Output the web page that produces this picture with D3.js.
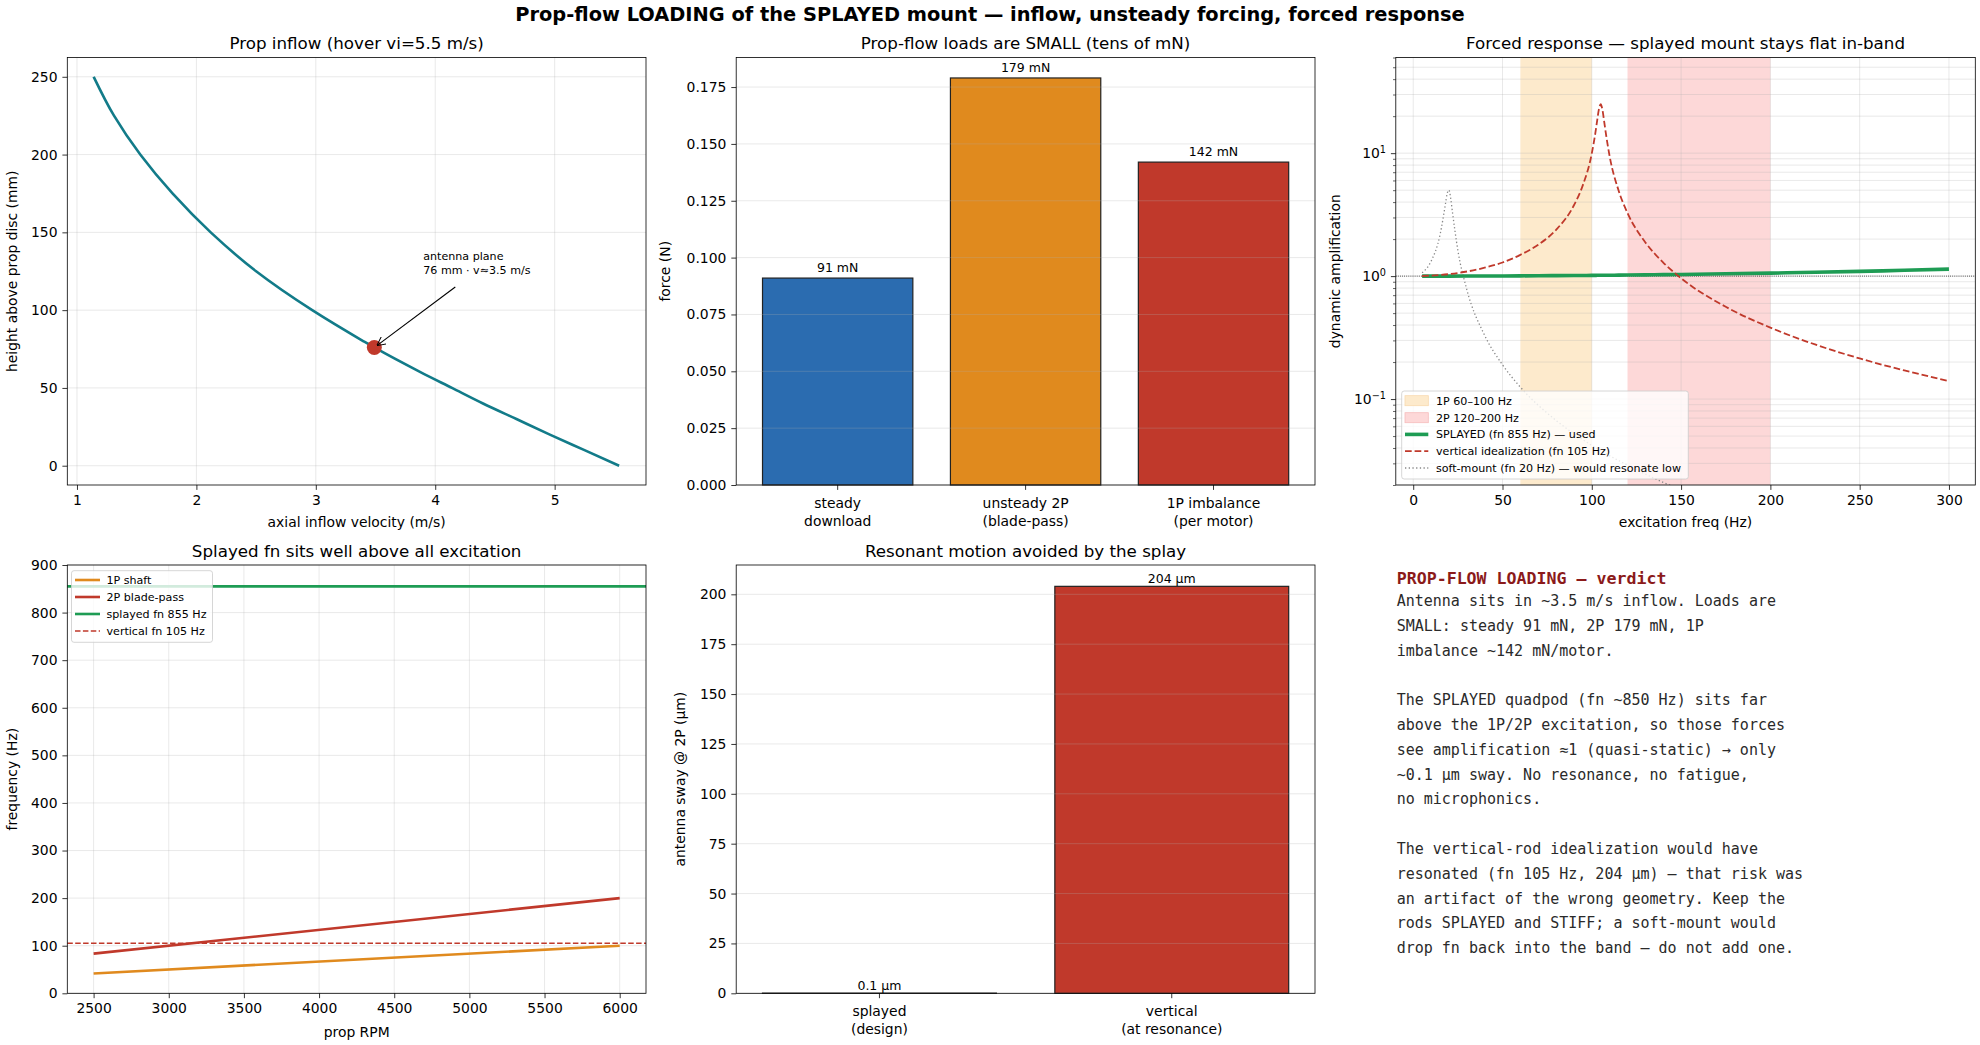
<!DOCTYPE html>
<html>
<head>
<meta charset="utf-8">
<script src="https://cdn.jsdelivr.net/npm/d3@7"></script>
<style>
  body { margin: 0; background: #fff; }
  svg { display: block; }
</style>
</head>
<body>
<script>
// ---- data ----
// panel 1: inflow velocity vs height above the prop disc
const inflowHeight = [0, 10, 20, 30, 40, 50, 60, 76, 80, 100, 125, 150, 175, 200, 225, 250];
const inflowVel = [5.54, 5.25, 4.96, 4.68, 4.40, 4.14, 3.88, 3.49, 3.40, 2.97, 2.50, 2.12, 1.80, 1.53, 1.31, 1.14];
const antenna = { v: 3.49, h: 76, textV: 3.9, textH: 120 };
const antennaText = ["antenna plane", "76 mm · v≈3.5 m/s"];

// panel 2: prop-flow loads
const loadCats = ["steady\ndownload", "unsteady 2P\n(blade-pass)", "1P imbalance\n(per motor)"];
const loadVals = [0.091, 0.179, 0.142];
const loadLabels = ["91 mN", "179 mN", "142 mN"];
const loadColors = ["#2b6cb0", "#e08a1e", "#c0392b"];

// panel 3: forced response
const respFreq = [5, 20, 40, 50, 60, 70, 80, 90, 95, 100, 102, 103, 104, 105, 106, 107, 108, 110, 115, 120, 130, 140, 150, 175, 200, 225, 250, 275, 300];
const ampVertical = [1.002, 1.038, 1.17, 1.29, 1.49, 1.80, 2.38, 3.77, 5.5, 9.95, 14.6, 18.4, 22.8, 25.0, 22.4, 17.8, 14.1, 9.43, 4.97, 3.26, 1.88, 1.29, 0.961, 0.563, 0.381, 0.278, 0.214, 0.171, 0.140];
const ampSplayed = [1.0, 1.0005, 1.002, 1.003, 1.005, 1.007, 1.009, 1.011, 1.012, 1.014, 1.014, 1.015, 1.015, 1.015, 1.016, 1.016, 1.016, 1.017, 1.018, 1.020, 1.024, 1.028, 1.032, 1.044, 1.058, 1.074, 1.093, 1.115, 1.140];
const softFreq = [5, 10, 15, 18, 19, 20, 21, 22, 25, 30, 40, 50, 60, 80, 100, 120, 140, 160, 200, 250, 300];
const ampSoft = [1.065, 1.32, 2.16, 3.82, 4.68, 5.0, 4.28, 3.29, 1.62, 0.778, 0.330, 0.190, 0.125, 0.067, 0.042, 0.029, 0.021, 0.016, 0.010, 0.0067, 0.0045];
const bands = [[60, 100], [120, 200]];
const bandColors = ["#fdeacc", "#fdd8d8"];
const respLegend = ["1P 60–100 Hz", "2P 120–200 Hz", "SPLAYED (fn 855 Hz) — used", "vertical idealization (fn 105 Hz)", "soft-mount (fn 20 Hz) — would resonate low"];

// panel 4: campbell-style frequency map
const rpm = [2500, 6000];
const freq1P = [41.7, 100];
const freq2P = [83.3, 200];
const fnSplayed = 855;
const fnVertical = 105;
const freqLegend = ["1P shaft", "2P blade-pass", "splayed fn 855 Hz", "vertical fn 105 Hz"];

// panel 5: antenna sway
const swayCats = ["splayed\n(design)", "vertical\n(at resonance)"];
const swayVals = [0.1, 204];
const swayLabels = ["0.1 µm", "204 µm"];
const swayColors = ["#1e9c54", "#c0392b"];

// panel 6: verdict text
const verdictTitle = "PROP-FLOW LOADING — verdict";
const verdictLines = [
    "Antenna sits in ~3.5 m/s inflow. Loads are",
    "SMALL: steady 91 mN, 2P 179 mN, 1P",
    "imbalance ~142 mN/motor.",
    "",
    "The SPLAYED quadpod (fn ~850 Hz) sits far",
    "above the 1P/2P excitation, so those forces",
    "see amplification ≈1 (quasi-static) → only",
    "~0.1 µm sway. No resonance, no fatigue,",
    "no microphonics.",
    "",
    "The vertical-rod idealization would have",
    "resonated (fn 105 Hz, 204 µm) — that risk was",
    "an artifact of the wrong geometry. Keep the",
    "rods SPLAYED and STIFF; a soft-mount would",
    "drop fn back into the band — do not add one."
];

// ---- layout ----
const W = 1980, H = 1045;
const FONT = "DejaVu Sans";
const TICK = 13.9, TITLE = 16.7;
const cols = [[67.3, 646], [736.2, 1315], [1395.8, 1975.3]];
const rows = [[57.5, 485], [565, 993.3]];

const teal = "#127b89", orange = "#e08a1e", red = "#c0392b", green = "#1e9c54";

const svg = d3.select('body')
    .append('svg')
    .attr('width', W)
    .attr('height', H)
    .style('font-family', FONT);

const defs = svg.append('defs');
defs.append('marker')
    .attr('id', 'arrow')
    .attr('viewBox', '0 0 10 10')
    .attr('refX', 9).attr('refY', 5)
    .attr('markerWidth', 9).attr('markerHeight', 9)
    .attr('markerUnits', 'userSpaceOnUse')
    .attr('orient', 'auto')
    .append('path')
    .attr('d', 'M0,0 L10,5 L0,10')
    .attr('fill', 'none')
    .attr('stroke', '#000')
    .attr('stroke-width', 1.1);

svg.append('text')
    .attr('x', W / 2)
    .attr('y', 21)
    .attr('text-anchor', 'middle')
    .attr('font-size', 19.4)
    .attr('font-weight', 'bold')
    .text('Prop-flow LOADING of the SPLAYED mount — inflow, unsteady forcing, forced response');

let clipCount = 0;
function makePanel(c, r) {
    const [x0, x1] = cols[c];
    const [y0, y1] = rows[r];
    const w = x1 - x0, h = y1 - y0;
    const g = svg.append('g').attr('transform', `translate(${x0},${y0})`);
    const id = 'clip' + (clipCount++);
    defs.append('clipPath').attr('id', id).append('rect').attr('width', w).attr('height', h);
    return { g, w, h, clip: `url(#${id})` };
}

function styleAxis(sel) {
    sel.select('.domain').remove();
    sel.attr('font-size', null).attr('font-family', null);
    sel.selectAll('text').attr('font-size', TICK).attr('fill', '#000');
    sel.selectAll('line').attr('stroke', '#000').attr('stroke-width', 0.8);
}

function gridX(p, scale, vals) {
    p.g.append('g').selectAll('line').data(vals).join('line')
        .attr('x1', d => scale(d)).attr('x2', d => scale(d))
        .attr('y1', 0).attr('y2', p.h)
        .attr('stroke', '#b0b0b0').attr('stroke-opacity', 0.35).attr('stroke-width', 0.8);
}
function gridY(p, scale, vals) {
    p.g.append('g').selectAll('line').data(vals).join('line')
        .attr('y1', d => scale(d)).attr('y2', d => scale(d))
        .attr('x1', 0).attr('x2', p.w)
        .attr('stroke', '#b0b0b0').attr('stroke-opacity', 0.35).attr('stroke-width', 0.8);
}

function frame(p) {
    p.g.append('rect')
        .attr('width', p.w).attr('height', p.h)
        .attr('fill', 'none').attr('stroke', '#000').attr('stroke-width', 0.8);
}

function title(p, t) {
    p.g.append('text')
        .attr('x', p.w / 2).attr('y', -8.5)
        .attr('text-anchor', 'middle')
        .attr('font-size', TITLE)
        .text(t);
}
function xLabel(p, t, off) {
    p.g.append('text')
        .attr('x', p.w / 2).attr('y', p.h + off)
        .attr('dy', '0.35em')
        .attr('text-anchor', 'middle')
        .attr('font-size', TICK)
        .text(t);
}
function yLabel(p, t, off) {
    p.g.append('text')
        .attr('transform', `translate(${-off},${p.h / 2}) rotate(-90)`)
        .attr('dy', '0.35em')
        .attr('text-anchor', 'middle')
        .attr('font-size', TICK)
        .text(t);
}

function bottomAxis(p, scale, vals, fmt) {
    const ax = d3.axisBottom(scale).tickSize(4.9).tickPadding(4.9).tickSizeOuter(0);
    if (vals) ax.tickValues(vals);
    if (fmt) ax.tickFormat(fmt);
    const g = p.g.append('g').attr('transform', `translate(0,${p.h})`).call(ax);
    styleAxis(g);
    return g;
}
function leftAxis(p, scale, vals, fmt) {
    const ax = d3.axisLeft(scale).tickSize(4.9).tickPadding(4.9).tickSizeOuter(0);
    if (vals) ax.tickValues(vals);
    if (fmt) ax.tickFormat(fmt);
    const g = p.g.append('g').call(ax);
    styleAxis(g);
    return g;
}

// category labels on two lines, pushed a little lower like the reference
function twoLineTicks(g, shift) {
    g.selectAll('.tick text').each(function (d) {
        const t = d3.select(this);
        const parts = d.split('\n');
        t.text(null).attr('y', +t.attr('y') + shift);
        parts.forEach((s, i) => {
            t.append('tspan').attr('x', 0).attr('dy', i === 0 ? '0.71em' : '1.27em').text(s);
        });
    });
}

function legendBox(p, x, y, w, h) {
    p.g.append('rect')
        .attr('x', x).attr('y', y).attr('width', w).attr('height', h)
        .attr('rx', 2.5)
        .attr('fill', '#fff').attr('fill-opacity', 0.8)
        .attr('stroke', '#cccccc').attr('stroke-width', 0.8);
}

// ---- panel 1: prop inflow ----
{
    const p = makePanel(0, 0);
    const x = d3.scaleLinear().domain([0.919, 5.765]).range([0, p.w]);
    const y = d3.scaleLinear().domain([-12.4, 262.4]).range([p.h, 0]);
    const xt = [1, 2, 3, 4, 5], yt = [0, 50, 100, 150, 200, 250];
    gridX(p, x, xt);
    gridY(p, y, yt);

    const line = d3.line()
        .x((d, i) => x(inflowVel[i]))
        .y(d => y(d))
        .curve(d3.curveMonotoneY);
    p.g.append('path')
        .datum(inflowHeight)
        .attr('d', line)
        .attr('fill', 'none')
        .attr('stroke', teal)
        .attr('stroke-width', 2.6);

    p.g.append('circle')
        .attr('cx', x(antenna.v)).attr('cy', y(antenna.h))
        .attr('r', 7.5)
        .attr('fill', red);

    const tx = x(antenna.textV), ty = y(antenna.textH);
    p.g.append('text')
        .attr('x', tx).attr('y', ty - 19)
        .attr('font-size', 11.1)
        .selectAll('tspan').data(antennaText).join('tspan')
        .attr('x', tx).attr('dy', (d, i) => i === 0 ? 0 : 14.2)
        .text(d => d);
    // arrow from text to the antenna point
    const x0 = tx + 32, y0 = ty + 8;
    const x1 = x(antenna.v), y1 = y(antenna.h);
    const len = Math.hypot(x1 - x0, y1 - y0);
    p.g.append('line')
        .attr('x1', x0).attr('y1', y0)
        .attr('x2', x1 - (x1 - x0) / len * 4).attr('y2', y1 - (y1 - y0) / len * 4)
        .attr('stroke', '#000').attr('stroke-width', 1.1)
        .attr('marker-end', 'url(#arrow)');

    bottomAxis(p, x, xt, d3.format('d'));
    leftAxis(p, y, yt, d3.format('d'));
    frame(p);
    title(p, 'Prop inflow (hover vi=5.5 m/s)');
    xLabel(p, 'axial inflow velocity (m/s)', 37);
    yLabel(p, 'height above prop disc (mm)', 55.5);
}

// ---- panel 2: prop-flow loads ----
{
    const p = makePanel(1, 0);
    const x = d3.scaleBand().domain(loadCats).range([0, p.w]).paddingInner(0.2).paddingOuter(0.14);
    const y = d3.scaleLinear().domain([0, 0.188]).range([p.h, 0]);
    const yt = [0, 0.025, 0.05, 0.075, 0.1, 0.125, 0.15, 0.175];

    p.g.append('g').selectAll('rect').data(loadCats).join('rect')
        .attr('x', d => x(d))
        .attr('y', (d, i) => y(loadVals[i]))
        .attr('width', x.bandwidth())
        .attr('height', (d, i) => y(0) - y(loadVals[i]))
        .attr('fill', (d, i) => loadColors[i])
        .attr('stroke', '#222').attr('stroke-width', 1.2);
    gridY(p, y, yt);

    p.g.append('g').selectAll('text').data(loadCats).join('text')
        .attr('x', d => x(d) + x.bandwidth() / 2)
        .attr('y', (d, i) => y(loadVals[i]) - 6)
        .attr('text-anchor', 'middle')
        .attr('font-size', 12.5)
        .text((d, i) => loadLabels[i]);

    const xg = bottomAxis(p, x);
    twoLineTicks(xg, 3.5);
    leftAxis(p, y, yt, d3.format('.3f'));
    frame(p);
    title(p, 'Prop-flow loads are SMALL (tens of mN)');
    yLabel(p, 'force (N)', 71.2);
}

// ---- panel 3: forced response ----
{
    const p = makePanel(2, 0);
    const x = d3.scaleLinear().domain([-9.75, 314.75]).range([0, p.w]);
    const y = d3.scaleLog().domain([0.02, 60]).range([p.h, 0]);
    const xt = [0, 50, 100, 150, 200, 250, 300];
    const majors = [0.1, 1, 10];
    const minors = [];
    [0.01, 0.1, 1, 10].forEach(dec => {
        for (let k = 2; k <= 9; k++) {
            const v = k * dec;
            if (v >= 0.02 && v <= 60) minors.push(v);
        }
    });

    p.g.append('g').selectAll('rect').data(bands).join('rect')
        .attr('x', d => x(d[0]))
        .attr('width', d => x(d[1]) - x(d[0]))
        .attr('y', 0).attr('height', p.h)
        .attr('fill', (d, i) => bandColors[i]);

    gridX(p, x, xt);
    gridY(p, y, majors.concat(minors));

    const plot = p.g.append('g').attr('clip-path', p.clip);
    plot.append('line')
        .attr('x1', 0).attr('x2', p.w)
        .attr('y1', y(1)).attr('y2', y(1))
        .attr('stroke', '#000').attr('stroke-width', 0.8)
        .attr('stroke-dasharray', '0.8,1.3');

    const lineV = d3.line().x((d, i) => x(respFreq[i])).y(d => y(d)).curve(d3.curveMonotoneX);
    const lineS = d3.line().x((d, i) => x(softFreq[i])).y(d => y(d)).curve(d3.curveMonotoneX);

    plot.append('path').datum(ampSoft).attr('d', lineS)
        .attr('fill', 'none').attr('stroke', '#888').attr('stroke-width', 1.3)
        .attr('stroke-dasharray', '1.3,2.4');
    plot.append('path').datum(ampSplayed).attr('d', lineV)
        .attr('fill', 'none').attr('stroke', green).attr('stroke-width', 3.6);
    plot.append('path').datum(ampVertical).attr('d', lineV)
        .attr('fill', 'none').attr('stroke', red).attr('stroke-width', 1.8)
        .attr('stroke-dasharray', '6.7,2.9');

    bottomAxis(p, x, xt, d3.format('d'));
    const sup = { '0.1': '−1', '1': '0', '10': '1' };
    const yg = leftAxis(p, y, majors, () => '');
    yg.selectAll('.tick text').each(function (d) {
        const t = d3.select(this);
        t.append('tspan').text('10');
        t.append('tspan').attr('dy', '-0.5em').attr('font-size', 9.7).text(sup[String(d)]);
    });
    const ym = p.g.append('g').call(d3.axisLeft(y).tickValues(minors).tickSize(2.8).tickFormat(''));
    styleAxis(ym);
    ym.selectAll('line').attr('stroke-width', 0.6);

    // legend
    const lx = 1401.7 - cols[2][0], ly = 391 - rows[0][0];
    legendBox(p, lx, ly, 286.6, 88);
    const rowY = [400.7, 417.7, 434.4, 451.1, 468.0].map(v => v - rows[0][0]);
    const hx0 = 1405 - cols[2][0], hx1 = 1428.3 - cols[2][0];
    bandColors.forEach((c, i) => {
        p.g.append('rect')
            .attr('x', hx0).attr('y', rowY[i] - 5)
            .attr('width', hx1 - hx0).attr('height', 10)
            .attr('fill', c).attr('stroke', i === 0 ? '#f8d9ae' : '#f6bcbc').attr('stroke-width', 0.8);
    });
    const legStyles = [
        { c: green, w: 3.6, dash: null },
        { c: red, w: 1.8, dash: '6.7,2.9' },
        { c: '#888', w: 1.3, dash: '1.3,2.4' }
    ];
    legStyles.forEach((s, i) => {
        p.g.append('line')
            .attr('x1', hx0).attr('x2', hx1)
            .attr('y1', rowY[i + 2]).attr('y2', rowY[i + 2])
            .attr('stroke', s.c).attr('stroke-width', s.w)
            .attr('stroke-dasharray', s.dash);
    });
    p.g.append('g').selectAll('text').data(respLegend).join('text')
        .attr('x', 1436 - cols[2][0])
        .attr('y', (d, i) => rowY[i])
        .attr('dy', '0.35em')
        .attr('font-size', 11.1)
        .text(d => d);

    frame(p);
    title(p, 'Forced response — splayed mount stays flat in-band');
    xLabel(p, 'excitation freq (Hz)', 37);
    yLabel(p, 'dynamic amplification', 61.1);
}

// ---- panel 4: frequency map ----
{
    const p = makePanel(0, 1);
    const x = d3.scaleLinear().domain([2325, 6175]).range([0, p.w]);
    const y = d3.scaleLinear().domain([0, 900]).range([p.h, 0]);
    const xt = d3.range(2500, 6001, 500), yt = d3.range(0, 901, 100);
    gridX(p, x, xt);
    gridY(p, y, yt);

    const line = d3.line().x((d, i) => x(rpm[i])).y(d => y(d));
    p.g.append('path').datum(freq1P).attr('d', line)
        .attr('fill', 'none').attr('stroke', orange).attr('stroke-width', 2.6);
    p.g.append('path').datum(freq2P).attr('d', line)
        .attr('fill', 'none').attr('stroke', red).attr('stroke-width', 2.6);
    p.g.append('line')
        .attr('x1', 0).attr('x2', p.w)
        .attr('y1', y(fnSplayed)).attr('y2', y(fnSplayed))
        .attr('stroke', green).attr('stroke-width', 2.6);
    p.g.append('line')
        .attr('x1', 0).attr('x2', p.w)
        .attr('y1', y(fnVertical)).attr('y2', y(fnVertical))
        .attr('stroke', red).attr('stroke-width', 1.5)
        .attr('stroke-dasharray', '5.5,2.4');

    bottomAxis(p, x, xt, d3.format('d'));
    leftAxis(p, y, yt, d3.format('d'));

    // legend
    const lx = 71.5 - cols[0][0], ly = 570.7 - rows[1][0];
    legendBox(p, lx, ly, 141, 71.6);
    const rowY = [580, 597, 614, 631].map(v => v - rows[1][0]);
    const hx0 = 75 - cols[0][0], hx1 = 100 - cols[0][0];
    const legStyles = [
        { c: orange, w: 2.6, dash: null },
        { c: red, w: 2.6, dash: null },
        { c: green, w: 2.6, dash: null },
        { c: red, w: 1.5, dash: '5.5,2.4' }
    ];
    legStyles.forEach((s, i) => {
        p.g.append('line')
            .attr('x1', hx0).attr('x2', hx1)
            .attr('y1', rowY[i]).attr('y2', rowY[i])
            .attr('stroke', s.c).attr('stroke-width', s.w)
            .attr('stroke-dasharray', s.dash);
    });
    p.g.append('g').selectAll('text').data(freqLegend).join('text')
        .attr('x', 106.5 - cols[0][0])
        .attr('y', (d, i) => rowY[i])
        .attr('dy', '0.35em')
        .attr('font-size', 11.1)
        .text(d => d);

    frame(p);
    title(p, 'Splayed fn sits well above all excitation');
    xLabel(p, 'prop RPM', 38.4);
    yLabel(p, 'frequency (Hz)', 55.5);
}

// ---- panel 5: antenna sway ----
{
    const p = makePanel(1, 1);
    const x = d3.scaleBand().domain(swayCats).range([0, p.w]).paddingInner(0.2).paddingOuter(0.09);
    const y = d3.scaleLinear().domain([0, 214.7]).range([p.h, 0]);
    const yt = d3.range(0, 201, 25);

    p.g.append('g').selectAll('rect').data(swayCats).join('rect')
        .attr('x', d => x(d))
        .attr('y', (d, i) => y(swayVals[i]))
        .attr('width', x.bandwidth())
        .attr('height', (d, i) => y(0) - y(swayVals[i]))
        .attr('fill', (d, i) => swayColors[i])
        .attr('stroke', '#222').attr('stroke-width', 1.2);
    gridY(p, y, yt);

    p.g.append('g').selectAll('text').data(swayCats).join('text')
        .attr('x', d => x(d) + x.bandwidth() / 2)
        .attr('y', (d, i) => y(swayVals[i]) - 3.5)
        .attr('text-anchor', 'middle')
        .attr('font-size', 12.5)
        .text((d, i) => swayLabels[i]);

    const xg = bottomAxis(p, x);
    twoLineTicks(xg, 3.5);
    leftAxis(p, y, yt, d3.format('d'));
    frame(p);
    title(p, 'Resonant motion avoided by the splay');
    yLabel(p, 'antenna sway @ 2P (µm)', 56);
}

// ---- panel 6: verdict text ----
{
    const g = svg.append('g');
    g.append('text')
        .attr('x', 1396.7).attr('y', 583.5)
        .attr('font-family', 'DejaVu Sans Mono')
        .attr('font-size', 16.6)
        .attr('font-weight', 'bold')
        .attr('fill', '#8b1a1a')
        .text(verdictTitle);
    g.append('g').selectAll('text').data(verdictLines).join('text')
        .attr('x', 1396.7)
        .attr('y', (d, i) => 606 + i * 24.8)
        .attr('font-family', 'DejaVu Sans Mono')
        .attr('font-size', 15)
        .attr('fill', '#2a2a2a')
        .style('white-space', 'pre')
        .text(d => d);
}
</script>
</body>
</html>
